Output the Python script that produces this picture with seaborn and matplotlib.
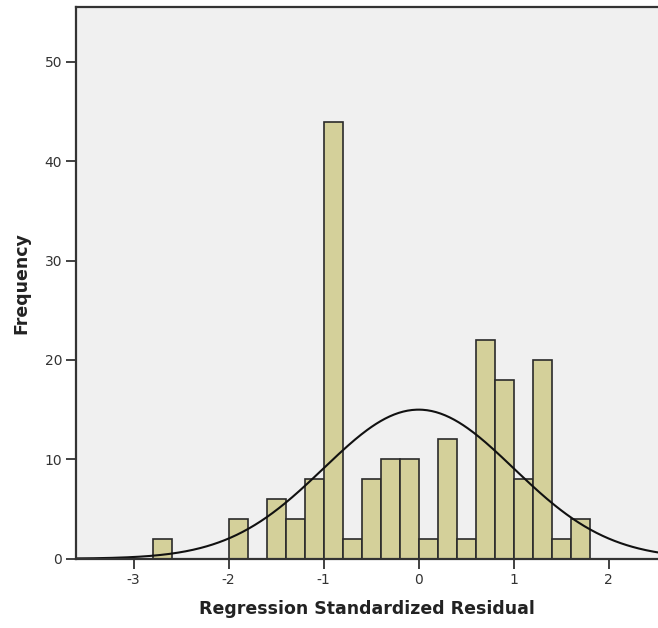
import numpy as np
import pandas as pd
import matplotlib
matplotlib.use("Agg")
import matplotlib.pyplot as plt
import seaborn as sns

# histogram bins (left edges, width 0.2) and counts
bin_left = [-2.8, -2.0, -1.6, -1.4, -1.2, -1.0, -0.8, -0.6, -0.4, -0.2,
            0.0, 0.2, 0.4, 0.6, 0.8, 1.0, 1.2, 1.4, 1.6]
counts = [2, 4, 6, 4, 8, 44, 2, 8, 10, 10, 2, 12, 2, 22, 18, 8, 20, 2, 4]
bin_width = 0.2

# fitted normal curve parameters (SPSS style)
curve_mean = 0.0
curve_sd = 1.0

x_ticks = [-3, -2, -1, 0, 1, 2]
y_ticks = [0, 10, 20, 30, 40, 50]


def main():
    sns.set_style("white")
    plt.rcParams["font.family"] = ["DejaVu Sans"]

    df = pd.DataFrame({"resid": np.array(bin_left) + bin_width / 2,
                       "n": counts})
    edges = [round(-3.0 + i * bin_width, 2) for i in range(26)]
    n_total = sum(counts)

    fig = plt.figure(figsize=(6.58, 6.28), dpi=100)
    ax = fig.add_axes([0.1155, 0.1104, 0.8845, 0.878])
    ax.set_facecolor("#f0f0f0")

    sns.histplot(data=df, x="resid", weights="n", bins=edges, ax=ax,
                 color="#d4d09a", edgecolor="#2b2b2b", linewidth=1.2,
                 alpha=1.0)

    # normal curve overlay
    xs = np.linspace(-3.7, 2.6, 400)
    ys = n_total * bin_width / (curve_sd * np.sqrt(2 * np.pi)) * \
        np.exp(-0.5 * ((xs - curve_mean) / curve_sd) ** 2)
    sns.lineplot(x=xs, y=ys, ax=ax, color="#111111", linewidth=1.5)

    ax.set_xlim(-3.607, 2.52)
    ax.set_ylim(0, 55.5)
    ax.set_xticks(x_ticks)
    ax.set_xticklabels([str(t) for t in x_ticks])
    ax.set_yticks(y_ticks)

    ax.tick_params(axis="both", direction="out", length=7, width=1.3,
                   color="#333333", labelsize=10, labelcolor="#333333",
                   bottom=True, left=True, pad=3)
    for side in ["left", "top", "bottom"]:
        ax.spines[side].set_color("#333333")
        ax.spines[side].set_linewidth(1.6)
    ax.spines["right"].set_visible(False)

    ax.set_xlabel("Regression Standardized Residual", fontsize=12.5,
                  fontweight="bold", color="#222222", labelpad=10)
    ax.set_ylabel("Frequency", fontsize=12.5, fontweight="bold",
                  color="#222222", labelpad=10)

    fig.savefig("out.png", dpi=100)


if __name__ == "__main__":
    main()
